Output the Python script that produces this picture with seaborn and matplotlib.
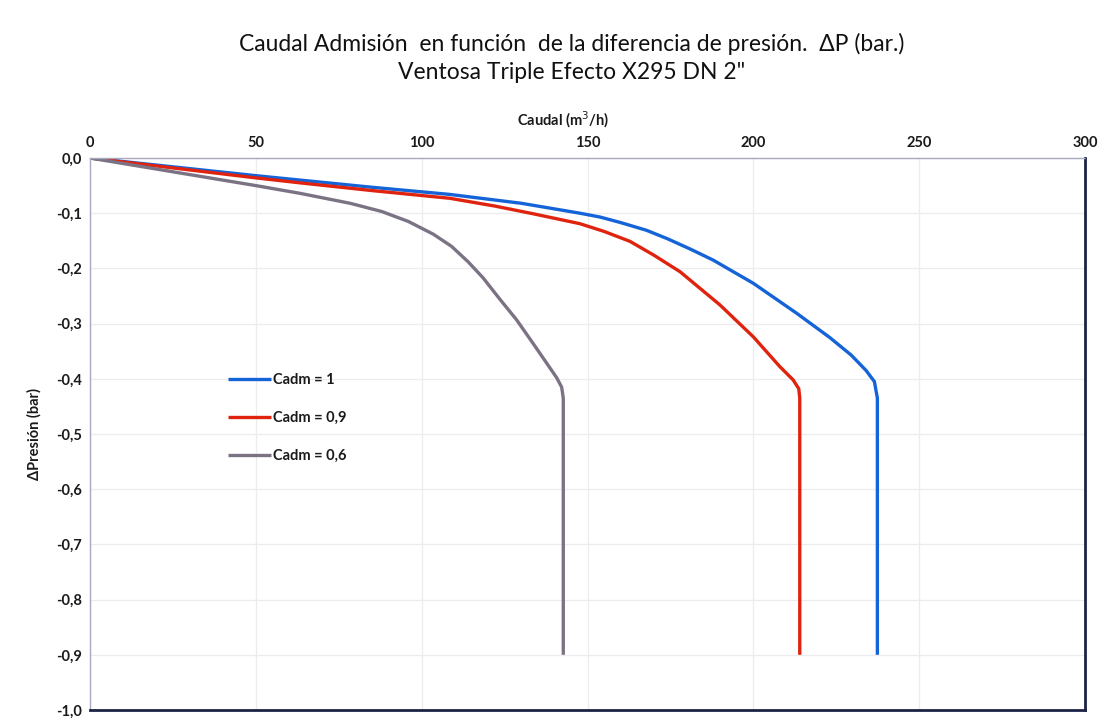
import matplotlib
matplotlib.use("Agg")
import matplotlib.pyplot as plt
import seaborn as sns
import pandas as pd
from matplotlib.ticker import FixedLocator, FuncFormatter

# Admission flow (m3/h) versus pressure difference (bar) for each admission coefficient
series_names = ["Cadm = 1", "Cadm = 0,9", "Cadm = 0,6"]

caudal_c10 = [0, 25, 50, 63.3, 85, 108.5, 130, 147.7, 153.8, 160, 167.8, 174, 181, 187.9,
              200, 213, 223, 229.5, 234, 236.5, 237.4, 237.4]
presion_c10 = [0, -0.016, -0.032, -0.040, -0.053, -0.066, -0.082, -0.100, -0.107, -0.117,
               -0.131, -0.146, -0.165, -0.185, -0.227, -0.281, -0.325, -0.357, -0.385,
               -0.405, -0.435, -0.900]

caudal_c09 = [0, 25, 50, 63.3, 85, 108.5, 122, 133.6, 147.7, 155, 162.8, 170, 177.9, 189.9,
              200, 208, 212, 213.7, 214, 214]
presion_c09 = [0, -0.018, -0.036, -0.045, -0.059, -0.073, -0.087, -0.101, -0.119, -0.133,
               -0.151, -0.176, -0.206, -0.266, -0.324, -0.378, -0.402, -0.418, -0.435, -0.900]

caudal_c06 = [0, 25, 50, 63.3, 78.4, 88, 96, 103.5, 109, 114, 118.5, 123.6, 128.6, 133.6,
              137.5, 140.7, 142.2, 142.7, 142.7]
presion_c06 = [0, -0.025, -0.050, -0.064, -0.082, -0.097, -0.115, -0.138, -0.160, -0.188,
               -0.217, -0.256, -0.293, -0.336, -0.370, -0.398, -0.415, -0.435, -0.900]

x_ticks = [0, 50, 100, 150, 200, 250, 300]
y_ticks = [0.0, -0.1, -0.2, -0.3, -0.4, -0.5, -0.6, -0.7, -0.8, -0.9, -1.0]

line_colors = ["#1464d8", "#e0230f", "#7b7283"]

frames = []
for name, xs, ys in zip(series_names,
                        [caudal_c10, caudal_c09, caudal_c06],
                        [presion_c10, presion_c09, presion_c06]):
    frames.append(pd.DataFrame({"Caudal": xs, "Presion": ys, "Serie": name}))
df = pd.concat(frames, ignore_index=True)

sns.set_theme(style="white")
plt.rcParams["font.family"] = ["Lato", "DejaVu Sans"]

fig = plt.figure(figsize=(11.15, 7.22), dpi=100)
ax = fig.add_axes([90 / 1115, 1 - 710 / 722, (1085 - 90) / 1115, (710 - 158) / 722])

sns.lineplot(data=df, x="Caudal", y="Presion", hue="Serie", hue_order=series_names,
             palette=line_colors, estimator=None, sort=False, linewidth=2.4, ax=ax)
for ln in ax.get_lines():
    ln.set_solid_joinstyle("round")
    ln.set_solid_capstyle("butt")

ax.set_xlim(0, 300)
ax.set_ylim(-1.0, 0.0)
ax.xaxis.set_major_locator(FixedLocator(x_ticks))
ax.yaxis.set_major_locator(FixedLocator(y_ticks))
ax.xaxis.tick_top()
ax.xaxis.set_label_position("top")
ax.xaxis.set_major_formatter(FuncFormatter(lambda v, p: f"{v:.0f}"))
ax.yaxis.set_major_formatter(FuncFormatter(lambda v, p: f"{v:.1f}".replace(".", ",")))
ax.tick_params(axis="both", length=0, labelsize=10.5, colors="#1a1a1a", pad=6)
for lbl in ax.get_xticklabels() + ax.get_yticklabels():
    lbl.set_fontweight("bold")

ax.grid(True, color="#ececef", linewidth=0.9)
ax.set_axisbelow(True)

for side in ["top", "left"]:
    ax.spines[side].set_color("#a8a8c0")
    ax.spines[side].set_linestyle((0, (2, 1)))
    ax.spines[side].set_linewidth(1.0)
for side in ["right", "bottom"]:
    ax.spines[side].set_color("#1c2446")
    ax.spines[side].set_linewidth(2.0)

ax.set_xlabel("Caudal (m$^3$/h)", fontsize=10.5, fontweight="bold", color="#1a1a1a")
ax.xaxis.set_label_coords(0.475, 1.058)
ax.set_ylabel("ΔPresión (bar)", fontsize=10.5, fontweight="bold", labelpad=10, color="#1a1a1a")

leg = ax.legend(loc="upper left", bbox_to_anchor=(0.125, 0.635), frameon=False,
                fontsize=10.5, handlelength=3.0, handletextpad=0.1, labelspacing=1.65)
for t in leg.get_texts():
    t.set_fontweight("bold")
    t.set_color("#1a1a1a")

fig.text(0.513, 0.939, "Caudal Admisión  en función  de la diferencia de presión.  ΔP (bar.)",
         ha="center", va="center", fontsize=16.5, color="#111111")
fig.text(0.513, 0.899, "Ventosa Triple Efecto X295 DN 2\"",
         ha="center", va="center", fontsize=16.5, color="#111111")

fig.savefig("out.png", dpi=100, facecolor="white")
